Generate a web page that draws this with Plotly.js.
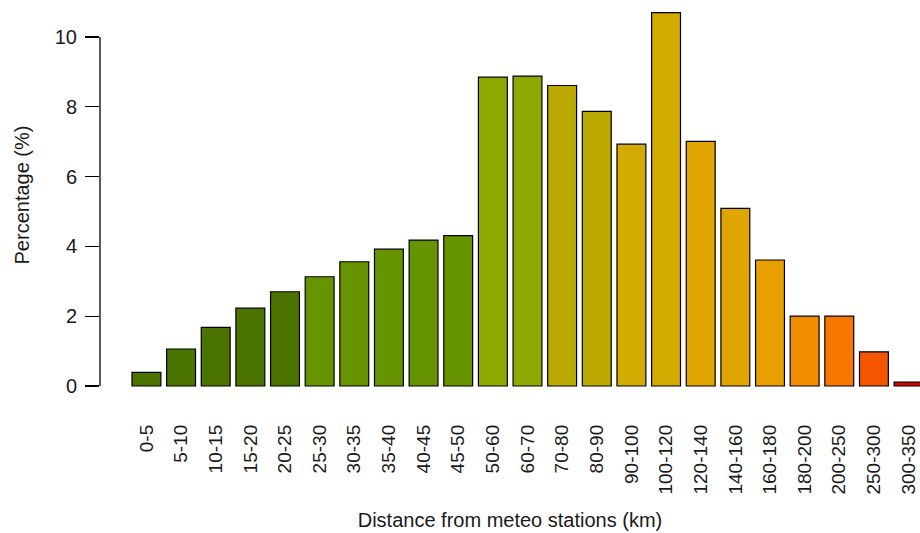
<!DOCTYPE html>
<html>
<head>
<meta charset="utf-8">
<script src="https://cdn.plot.ly/plotly-3.0.1.min.js"></script>
<style>html,body{margin:0;padding:0;background:#fff;}#chart{width:920px;height:533px;}</style>
</head>
<body>
<div id="chart"></div>
<script>
// Distance classes (km)
const categories = ["0-5","5-10","10-15","15-20","20-25","25-30","30-35","35-40","40-45","45-50",
  "50-60","60-70","70-80","80-90","90-100","100-120","120-140","140-160","160-180","180-200",
  "200-250","250-300","300-350"];
// Percentage of stations in each class (%)
const percentages = [0.39,1.06,1.68,2.23,2.70,3.13,3.56,3.92,4.18,4.31,
  8.85,8.88,8.61,7.87,6.93,10.70,7.01,5.09,3.61,2.00,2.00,0.98,0.11];
// Bar fill colours
const barColors = ["#4B7300","#4B7300","#4B7300","#4B7300","#4B7300",
  "#669400","#669400","#669400","#669400","#669400",
  "#8FA800","#8FA800","#BBA800","#BBA800","#D2AA00","#D2AA00",
  "#E0A500","#E0A500","#EA9F00","#F28D00","#F77700","#F45500","#E00000"];
const yTicks = [0,2,4,6,8,10];

const font = "Liberation Sans, Arial, sans-serif";

const trace = {
  type: "bar",
  x: categories,
  y: percentages,
  marker: {color: barColors, line: {color: "#000", width: 1.2}},
  hoverinfo: "x+y"
};

const layout = {
  width: 920, height: 533,
  margin: {l: 100, r: 0, t: 0, b: 143},
  paper_bgcolor: "#fff", plot_bgcolor: "#fff",
  showlegend: false,
  bargap: 0.166,
  font: {family: font, color: "#1a1a1a"},
  xaxis: {
    type: "category",
    range: [-1.34, 22.33],
    tickangle: -90,
    ticks: "",
    showline: false, showgrid: false, zeroline: false,
    tickfont: {size: 19, family: font, color: "#1a1a1a"},
    ticklabelstandoff: 30,
    automargin: false,
    title: {text: "Distance from meteo stations (km)", font: {size: 20, family: font, color: "#1a1a1a"}, standoff: 19}
  },
  yaxis: {
    range: [-0.115, 11.06],
    tickvals: yTicks,
    ticktext: yTicks.map(String),
    ticks: "outside", ticklen: 14, tickwidth: 1.3, tickcolor: "#000",
    showline: false, showgrid: false, zeroline: false,
    tickfont: {size: 20, family: font, color: "#1a1a1a"},
    ticklabelstandoff: 4,
    automargin: false,
    title: {text: "Percentage (%)", font: {size: 20, family: font, color: "#1a1a1a"}, standoff: 19}
  },
  shapes: [{
    type: "line", xref: "paper", yref: "y",
    x0: 0, x1: 0, y0: yTicks[0], y1: yTicks[yTicks.length - 1],
    line: {color: "#000", width: 1.3}
  }]
};

Plotly.newPlot("chart", [trace], layout, {displayModeBar: false, staticPlot: true});
</script>
</body>
</html>
